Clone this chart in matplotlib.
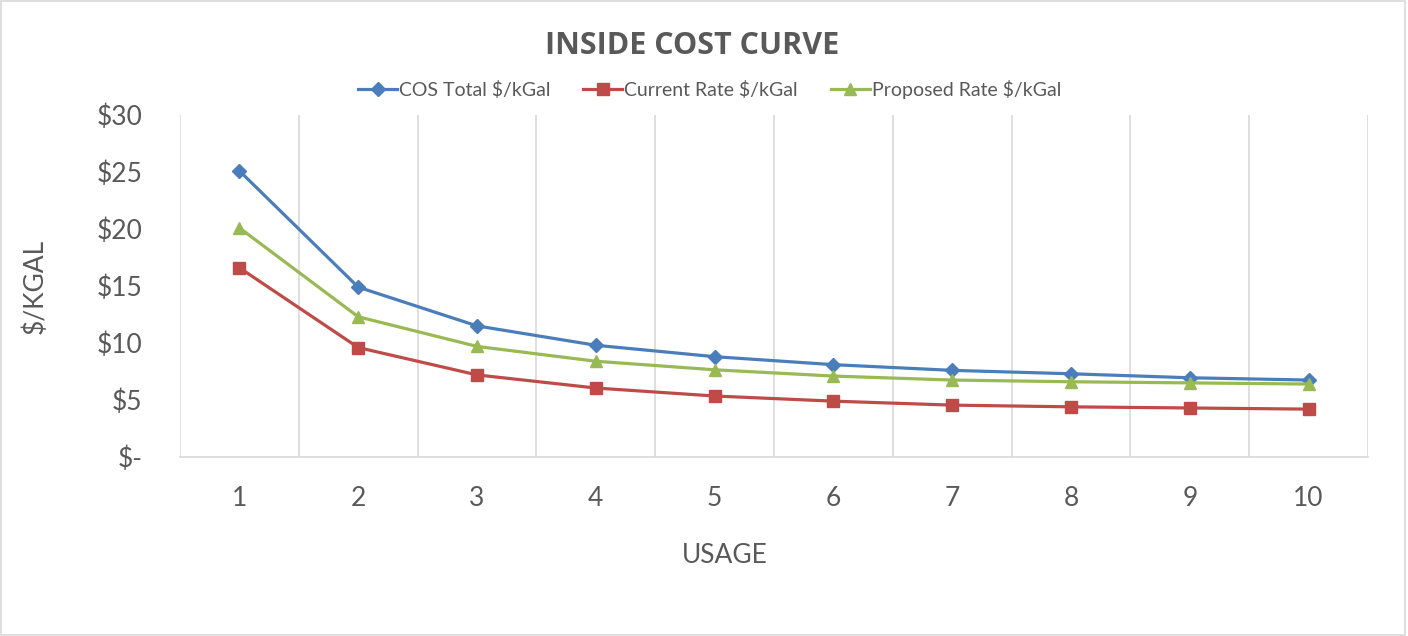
import matplotlib.pyplot as plt
from matplotlib.patches import Rectangle

# 数据
usage = [1, 2, 3, 4, 5, 6, 7, 8, 9, 10]
cos_total = [25.1, 14.9, 11.5, 9.8, 8.8, 8.1, 7.6, 7.3, 6.95, 6.75]
current_rate = [16.6, 9.6, 7.2, 6.05, 5.35, 4.9, 4.55, 4.4, 4.3, 4.2]
proposed_rate = [20.1, 12.3, 9.7, 8.4, 7.65, 7.1, 6.75, 6.6, 6.5, 6.4]
y_ticks = [0, 5, 10, 15, 20, 25, 30]
y_tick_labels = ["$-", "$5", "$10", "$15", "$20", "$25", "$30"]

plt.rcParams['font.family'] = ['Lato', 'DejaVu Sans']
text_color = "#595959"

fig = plt.figure(figsize=(14.08, 6.36), dpi=100)
fig.patches.append(Rectangle((0.001, 0.001), 0.997, 0.997, transform=fig.transFigure,
                             fill=False, edgecolor="#D9D9D9", linewidth=1.2))

ax = fig.add_axes([180 / 1408, (636 - 457) / 636, 1188 / 1408, 342 / 636])

ax.plot(usage, cos_total, color="#4A7EBB", lw=2.3, marker="D", ms=7, label="COS Total $/kGal")
ax.plot(usage, current_rate, color="#BE4B48", lw=2.3, marker="s", ms=8, label="Current Rate $/kGal")
ax.plot(usage, proposed_rate, color="#98B954", lw=2.3, marker="^", ms=9, label="Proposed Rate $/kGal")

ax.set_xlim(0.5, 10.5)
ax.set_ylim(0, 30)
ax.set_xticks(usage)
ax.set_xticklabels([str(u) for u in usage])
ax.set_yticks(y_ticks)
ax.set_yticklabels(y_tick_labels)

# 类别边界处的竖向网格线
for b in [u - 0.5 for u in usage] + [10.5]:
    ax.axvline(b, color="#D9D9D9", lw=1.2, zorder=0)

for s in ["top", "left", "right"]:
    ax.spines[s].set_visible(False)
ax.spines["bottom"].set_color("#D9D9D9")
ax.spines["bottom"].set_linewidth(1.2)

ax.tick_params(axis="y", length=0, pad=27, labelsize=19, labelcolor=text_color)
ax.tick_params(axis="x", length=0, pad=21, labelsize=19, labelcolor=text_color)

ax.set_xlabel("USAGE", fontsize=19, color=text_color)
ax.xaxis.set_label_coords((725 - 180) / 1188, -(543 - 457) / 342)
ax.set_ylabel("$/KGAL", fontsize=19, color=text_color)
ax.yaxis.set_label_coords(-(180 - 48) / 1188, 0.5)

fig.text(692 / 1408, 0.928, "INSIDE COST CURVE", ha="center", va="center",
         fontsize=22, fontweight="bold", color=text_color, family=["Open Sans", "DejaVu Sans"])

fig.legend(loc="center", bbox_to_anchor=(0.504, 0.859), ncol=3, frameon=False,
           fontsize=14, labelcolor=text_color, handlelength=2.0, handletextpad=0.1,
           columnspacing=1.7)

fig.savefig("out.png", dpi=100)
